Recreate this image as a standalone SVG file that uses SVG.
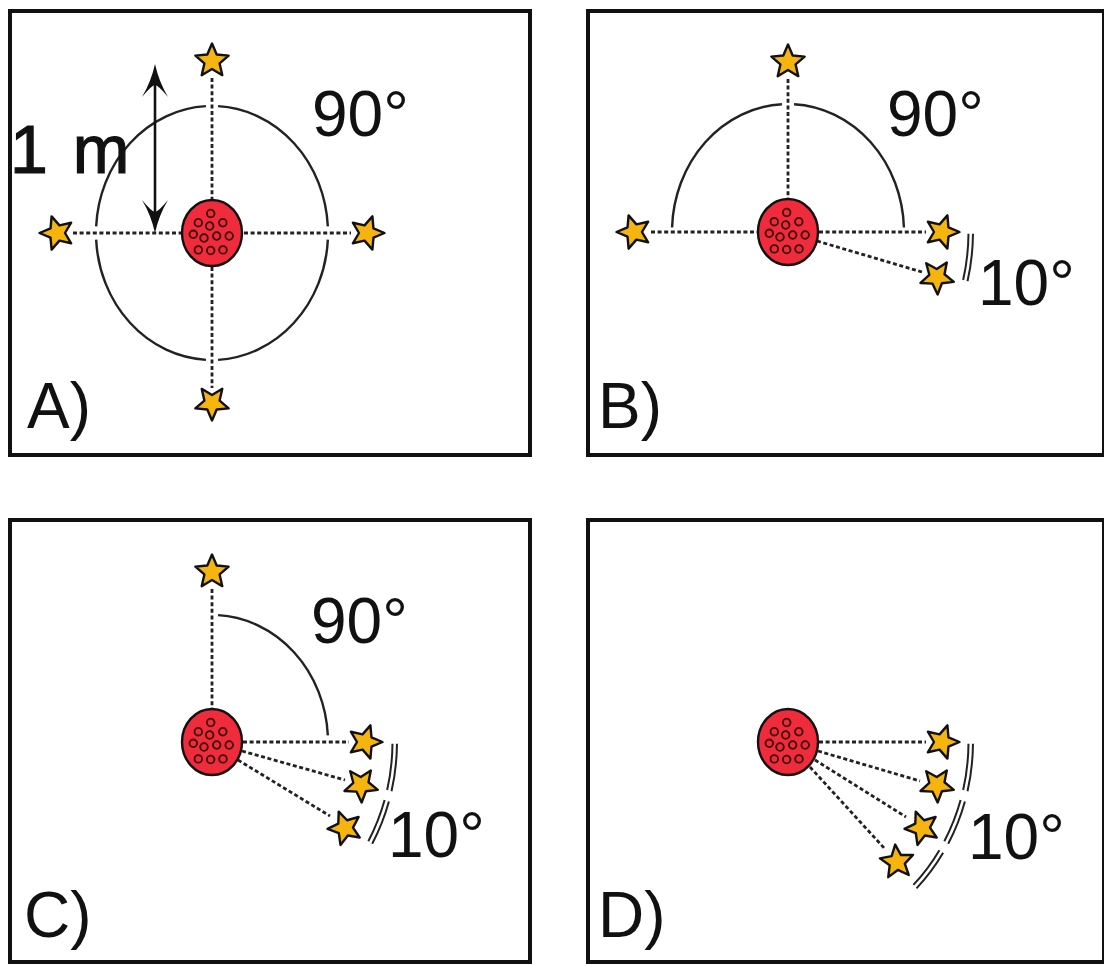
<svg xmlns="http://www.w3.org/2000/svg" width="1104" height="965" viewBox="0 0 1104 965">
<style>
.box{fill:none;stroke:#111;stroke-width:4}
.dot{fill:none;stroke:#222;stroke-width:2.8;stroke-dasharray:4 2.6}
.arc{fill:none;stroke:#222;stroke-width:2.4}
.dl{fill:none;stroke:#222;stroke-width:2}
.lbl{font-family:"Liberation Sans",Arial,sans-serif;font-size:64px;fill:#111}
.star{fill:#F6B40E;stroke:#111;stroke-width:2.4;stroke-linejoin:round}
</style>
<defs>
<path id="star" class="star" d="M0,-17.5 L4.7,-6.47 L16.64,-5.41 L7.61,2.47 L10.29,14.16 L0,8 L-10.29,14.16 L-7.61,2.47 L-16.64,-5.41 L-4.7,-6.47 Z"/>
<g id="hub">
<ellipse cx="0" cy="0" rx="30" ry="33" fill="#F02B3C" stroke="#111" stroke-width="2.4"/>
<g fill="none" stroke="#3a0808" stroke-width="1.8">
<circle cx="-1.3" cy="-19.5" r="3.8"/><circle cx="-13.7" cy="-10.3" r="3.8"/><circle cx="-2.3" cy="-7" r="3.8"/><circle cx="10.8" cy="-10.3" r="3.8"/>
<circle cx="-18.7" cy="1.3" r="3.8"/><circle cx="-8" cy="5" r="3.8"/><circle cx="4.7" cy="3" r="3.8"/><circle cx="17.2" cy="3" r="3.8"/>
<circle cx="-13.7" cy="16.9" r="3.8"/><circle cx="-1.3" cy="17.5" r="3.8"/><circle cx="11" cy="16.9" r="3.8"/>
</g>
</g>
<g id="dl1"><path class="dl" d="M180.47,1.7 A180.5,198.6 0 0 1 175.14,48.04"/><path class="dl" d="M184.97,1.7 A185,203.5 0 0 1 179.51,49.23"/></g>
<g id="dl2"><path class="dl" d="M172.61,58.06 A180.5,198.6 0 0 1 156.32,99.3"/><path class="dl" d="M176.92,59.5 A185,203.5 0 0 1 160.22,101.75"/></g>
<g id="dl3"><path class="dl" d="M151.38,108.17 A180.5,198.6 0 0 1 125.39,142.86"/><path class="dl" d="M155.15,110.83 A185,203.5 0 0 1 128.51,146.39"/></g>
</defs>
<rect width="1104" height="965" fill="#fff"/>

<!-- Panel frames -->
<g id="frames">
<rect class="box" x="10" y="11" width="520" height="444"/>
<rect class="box" x="588" y="11" width="516" height="444"/>
<rect class="box" x="10" y="520" width="520" height="442"/>
<rect class="box" x="588" y="520" width="516" height="442"/>
</g>

<!-- Connectors -->
<g id="connectors">
<!-- A -->
<line class="dot" x1="73" y1="233" x2="181" y2="233"/>
<line class="dot" x1="244" y1="233" x2="351" y2="233"/>
<line class="dot" x1="212" y1="78" x2="212" y2="199"/>
<line class="dot" x1="212" y1="267" x2="212" y2="388"/>
<!-- B -->
<line class="dot" x1="651" y1="232" x2="757" y2="232"/>
<line class="dot" x1="819" y1="232" x2="926" y2="232"/>
<line class="dot" x1="788" y1="79" x2="788" y2="198"/>
<line class="dot" x1="817" y1="241" x2="922" y2="272"/>
<!-- C -->
<line class="dot" x1="212" y1="589" x2="212" y2="708"/>
<line class="dot" x1="243" y1="742" x2="349" y2="742"/>
<line class="dot" x1="242" y1="751" x2="345" y2="780"/>
<line class="dot" x1="238" y1="760" x2="330" y2="816"/>
<!-- D -->
<line class="dot" x1="819" y1="742" x2="926" y2="742"/>
<line class="dot" x1="818" y1="751" x2="920" y2="781"/>
<line class="dot" x1="815" y1="760" x2="906" y2="817"/>
<line class="dot" x1="810" y1="767" x2="885" y2="849"/>
</g>

<!-- Angle arcs -->
<g id="arcs">
<path class="arc" d="M327.84,239.65 A116,127 0 0 1 218.07,359.83"/>
<path class="arc" d="M205.93,359.83 A116,127 0 0 1 96.16,239.65"/>
<path class="arc" d="M96.16,226.35 A116,127 0 0 1 205.93,106.17"/>
<path class="arc" d="M218.07,106.17 A116,127 0 0 1 327.84,226.35"/>
<path class="arc" d="M672.07,227.53 A116,128 0 0 1 781.93,104.18"/>
<path class="arc" d="M794.07,104.18 A116,128 0 0 1 903.93,227.53"/>
<path class="arc" d="M218.07,615.17 A116,127 0 0 1 327.84,735.35"/>
<use href="#dl1" x="788" y="232"/>
<use href="#dl1" x="212" y="742"/>
<use href="#dl2" x="212" y="742"/>
<use href="#dl1" x="788" y="742"/>
<use href="#dl2" x="788" y="742"/>
<use href="#dl3" x="788" y="742"/>
</g>

<!-- 1 m dimension arrow -->
<g id="dimension-arrow">
<line x1="155" y1="80" x2="155" y2="217" stroke="#111" stroke-width="2.6"/>
<path d="M155,64 Q159,82 168,97 Q158,85 155,85 Q152,85 142,97 Q151,82 155,64 Z" fill="#111"/>
<path d="M155,233 Q159,215 168,200 Q158,212 155,212 Q152,212 142,200 Q151,215 155,233 Z" fill="#111"/>
</g>

<!-- Panel A -->
<g id="panel-a">
<g id="a-hub"><use href="#hub" x="212" y="233"/></g>
<g id="a-star-top"><use href="#star" transform="translate(212,61)"/></g>
<g id="a-star-left"><use href="#star" transform="translate(57,233) rotate(-90)"/></g>
<g id="a-star-right"><use href="#star" transform="translate(367,233) rotate(90)"/></g>
<g id="a-star-bottom"><use href="#star" transform="translate(212,403) rotate(180)"/></g>
<text class="lbl" x="10" y="173" style="font-size:68px;word-spacing:6px" stroke="#111" stroke-width="1.2">1 m</text>
<text class="lbl" x="312" y="136">90°</text>
<text class="lbl" x="27" y="428">A)</text>
</g>

<!-- Panel B -->
<g id="panel-b">
<g id="b-hub"><use href="#hub" x="788" y="232"/></g>
<g id="b-star-top"><use href="#star" transform="translate(788,62)"/></g>
<g id="b-star-left"><use href="#star" transform="translate(634,232) rotate(-90)"/></g>
<g id="b-star-right"><use href="#star" transform="translate(942,232) rotate(90)"/></g>
<g id="b-star-lower"><use href="#star" transform="translate(937,277) rotate(106)"/></g>
<text class="lbl" x="887" y="136">90°</text>
<text class="lbl" x="978" y="305">10°</text>
<text class="lbl" x="598" y="428">B)</text>
</g>

<!-- Panel C -->
<g id="panel-c">
<g id="c-hub"><use href="#hub" x="212" y="742"/></g>
<g id="c-star-top"><use href="#star" transform="translate(212,572)"/></g>
<g id="c-star-1"><use href="#star" transform="translate(365,742) rotate(90)"/></g>
<g id="c-star-2"><use href="#star" transform="translate(361,785) rotate(106)"/></g>
<g id="c-star-3"><use href="#star" transform="translate(345,828) rotate(123)"/></g>
<text class="lbl" x="311" y="643">90°</text>
<text class="lbl" x="388" y="857">10°</text>
<text class="lbl" x="24" y="937">C)</text>
</g>

<!-- Panel D -->
<g id="panel-d">
<g id="d-hub"><use href="#hub" x="788" y="742"/></g>
<g id="d-star-1"><use href="#star" transform="translate(942,742) rotate(90)"/></g>
<g id="d-star-2"><use href="#star" transform="translate(937,785) rotate(106)"/></g>
<g id="d-star-3"><use href="#star" transform="translate(922,828) rotate(123)"/></g>
<g id="d-star-4"><use href="#star" transform="translate(897,862) rotate(138)"/></g>
<text class="lbl" x="968" y="859">10°</text>
<text class="lbl" x="598" y="937">D)</text>
</g>
</svg>
